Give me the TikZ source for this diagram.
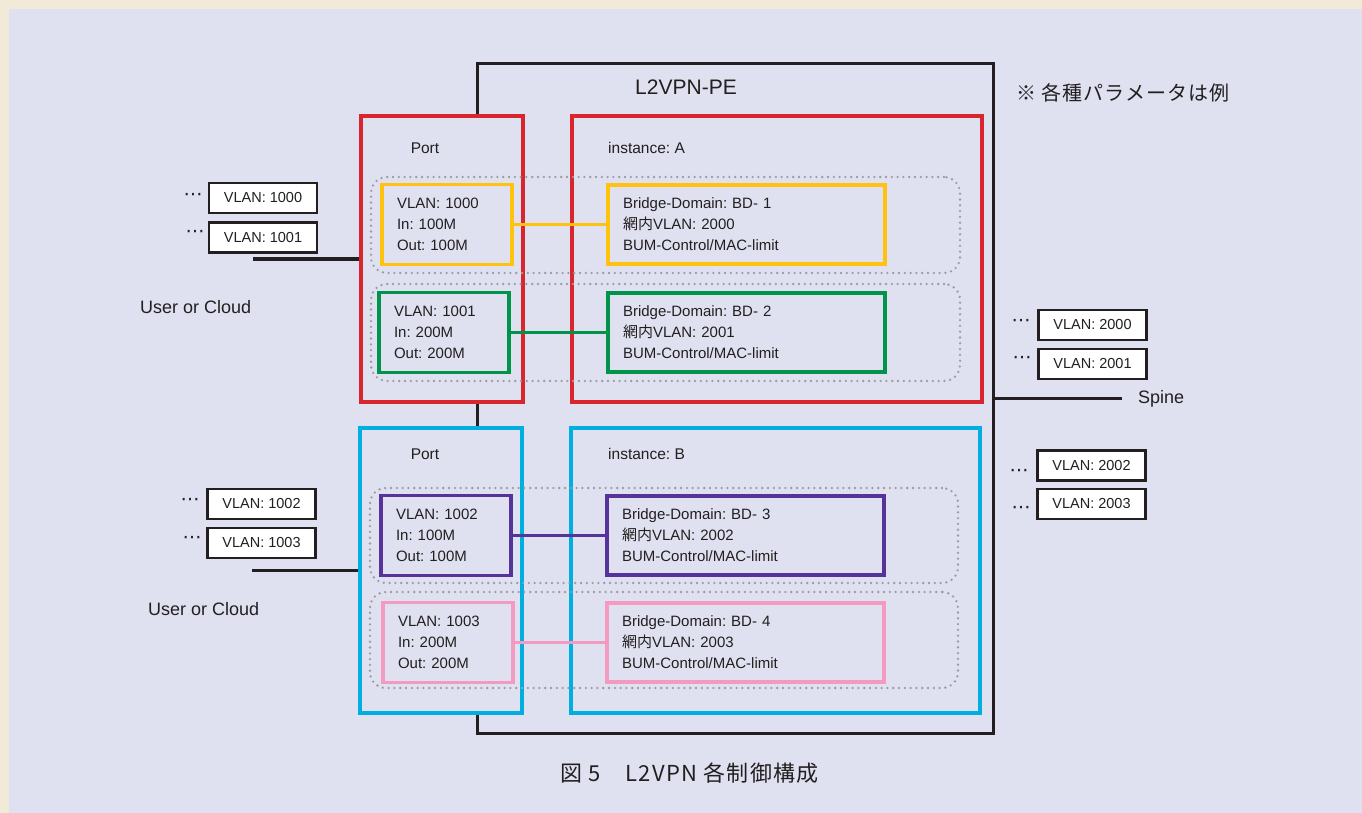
\documentclass[tikz,border=0pt]{standalone}
\usepackage{fontspec}
\setmainfont{Liberation Sans}
\newfontfamily\jp{Noto Sans CJK JP}
\newfontfamily\jpcap[LetterSpace=6]{Noto Sans CJK JP}
\newfontfamily\jpnote[LetterSpace=5]{Noto Sans CJK JP}
\newfontfamily\dv{DejaVu Sans}
\frenchspacing
\definecolor{beige}{HTML}{F2EAD8}
\definecolor{panel}{HTML}{DFE1F0}
\definecolor{txt}{HTML}{231F20}
\definecolor{cred}{HTML}{D7262E}
\definecolor{ccyan}{HTML}{00AEE0}
\definecolor{cyel}{HTML}{FFC20E}
\definecolor{cgrn}{HTML}{00944A}
\definecolor{cpur}{HTML}{553399}
\definecolor{cpnk}{HTML}{F49AC0}
\definecolor{cdot}{HTML}{9C9DA3}
\tikzset{
  pebox/.style={rectangle, draw=txt, line width=3pt, inner sep=0pt},
  outbox/.style={rectangle, draw=#1, line width=3.8pt, fill=panel, inner sep=0pt},
  grp/.style={rectangle, draw=cdot, line width=2.6pt, rounded corners=16pt,
    dash pattern=on 0pt off 5.8pt, line cap=round, inner sep=0pt},
  inbox/.style={rectangle, draw=#1, line width=3.6pt, fill=panel, inner sep=0pt,
    align=left, text=txt, font=\fontsize{15}{21}\selectfont},
  pbox/.style={inbox=#1, minimum width=130pt, minimum height=80pt, text width=100pt},
  bdbox/.style={inbox=#1, minimum width=277pt, minimum height=79pt, text width=247pt},
  vbox/.style={rectangle, draw=txt, line width=2.6pt, fill=white, inner sep=0pt,
    minimum width=108pt, minimum height=30pt, text=txt, font=\fontsize{14.5}{17}\selectfont},
  lbl/.style={text=txt, inner sep=0pt, font=\fontsize{15.5}{19}\selectfont},
  biglbl/.style={text=txt, inner sep=0pt, anchor=west, font=\fontsize{18}{22}\selectfont},
  dotlbl/.style={text=txt, inner sep=0pt, font=\dv\fontsize{19}{19}\selectfont},
  link/.style={draw=txt, line width=3.3pt},
  conn/.style={draw=#1, line width=3.3pt}
}
\begin{document}
\begin{tikzpicture}[x=1pt,y=-1pt]
\useasboundingbox (0,0) rectangle (1362,813);
\fill[beige] (0,0) rectangle (1362,813);
\fill[panel] (9,9) rectangle (1362,813);

% L2VPN-PE
\node[pebox, minimum width=516pt, minimum height=669pt] (pe) at (735,398.5) {};
\node[text=txt, font=\fontsize{21}{25}\selectfont] (pelabel) at (686,87) {L2VPN-PE};

% outer boxes
\node[outbox=cred, minimum width=162pt, minimum height=286pt] (portA) at (442,259) {};
\node[outbox=cred, minimum width=410pt, minimum height=286pt] (instA) at (777,259) {};
\node[outbox=ccyan, minimum width=162pt, minimum height=285pt] (portB) at (441,570.5) {};
\node[outbox=ccyan, minimum width=409pt, minimum height=285pt] (instB) at (775.5,570.5) {};

\node[lbl] (portAl) at (425,148) {Port};
\node[lbl] (portBl) at (425,454) {Port};
\node[lbl, anchor=west] (instAl) at (608,148) {instance: A};
\node[lbl, anchor=west] (instBl) at (608,454) {instance: B};

% dotted groups
\node[grp, minimum width=589pt, minimum height=96pt] (g1) at (665.5,225) {};
\node[grp, minimum width=589pt, minimum height=97pt] (g2) at (665.5,332.5) {};
\node[grp, minimum width=588pt, minimum height=95pt] (g3) at (664,535.5) {};
\node[grp, minimum width=588pt, minimum height=96pt] (g4) at (664,640) {};

% port boxes
\node[pbox=cyel] (yp) at (447,224.5) {VLAN: 1000\\In: 100M\\Out: 100M};
\node[pbox=cgrn] (gp) at (444,332.5) {VLAN: 1001\\In: 200M\\Out: 200M};
\node[pbox=cpur] (pp) at (446,535.5) {VLAN: 1002\\In: 100M\\Out: 100M};
\node[pbox=cpnk] (kp) at (448,642.5) {VLAN: 1003\\In: 200M\\Out: 200M};

% bridge domain boxes
\node[bdbox=cyel] (yb) at (746.5,224.5) {Bridge-Domain: BD- 1\\{\jp 網内}VLAN: 2000\\BUM-Control/MAC-limit};
\node[bdbox=cgrn] (gb) at (746.5,332.5) {Bridge-Domain: BD- 2\\{\jp 網内}VLAN: 2001\\BUM-Control/MAC-limit};
\node[bdbox=cpur] (pb) at (745.5,535.5) {Bridge-Domain: BD- 3\\{\jp 網内}VLAN: 2002\\BUM-Control/MAC-limit};
\node[bdbox=cpnk] (kb) at (745.5,642.5) {Bridge-Domain: BD- 4\\{\jp 網内}VLAN: 2003\\BUM-Control/MAC-limit};

% connectors
\draw[conn=cyel] (yp.east) -- (yb.west);
\draw[conn=cgrn] (gp.east) -- (gb.west);
\draw[conn=cpur] (pp.east) -- (pb.west);
\draw[conn=cpnk] (kp.east) -- (kb.west);

% external VLAN boxes
\node[vbox] (v1000) at (263,198) {VLAN: 1000};
\node[vbox] (v1001) at (263,237.5) {VLAN: 1001};
\node[vbox] (v1002) at (261.5,504) {VLAN: 1002};
\node[vbox] (v1003) at (261.5,543) {VLAN: 1003};
\node[vbox] (v2000) at (1092.5,325) {VLAN: 2000};
\node[vbox] (v2001) at (1092.5,364) {VLAN: 2001};
\node[vbox] (v2002) at (1091.5,465.5) {VLAN: 2002};
\node[vbox] (v2003) at (1091.5,504) {VLAN: 2003};

\node[dotlbl] (d1000) at (193,197) {⋯};
\node[dotlbl] (d1001) at (195,234) {⋯};
\node[dotlbl] (d1002) at (190,502) {⋯};
\node[dotlbl] (d1003) at (192,540) {⋯};
\node[dotlbl] (d2000) at (1021,323) {⋯};
\node[dotlbl] (d2001) at (1022,360) {⋯};
\node[dotlbl] (d2002) at (1019,473) {⋯};
\node[dotlbl] (d2003) at (1021,510) {⋯};

% user / spine links
\coordinate (uA) at (253,259);
\coordinate (uB) at (252,570.5);
\coordinate (sp) at (1122,398.5);
\draw[link] (uA) -- (portA.west);
\draw[link] (uB) -- (portB.west);
\draw[link] (pe.east) -- (sp);

\node[biglbl] (userA) at (140,307) {User or Cloud};
\node[biglbl] (userB) at (148,609) {User or Cloud};
\node[biglbl] (spine) at (1138,399) {Spine};

\node[anchor=west, text=txt, inner sep=0pt, font=\jpnote\fontsize{20}{24}\selectfont] (note) at (1016,93) {※ 各種パラメータは例};
\node[text=txt, inner sep=0pt, font=\jpcap\fontsize{22}{26}\selectfont] (cap) at (689.5,773) {図 5　L2VPN 各制御構成};
\end{tikzpicture}
\end{document}
